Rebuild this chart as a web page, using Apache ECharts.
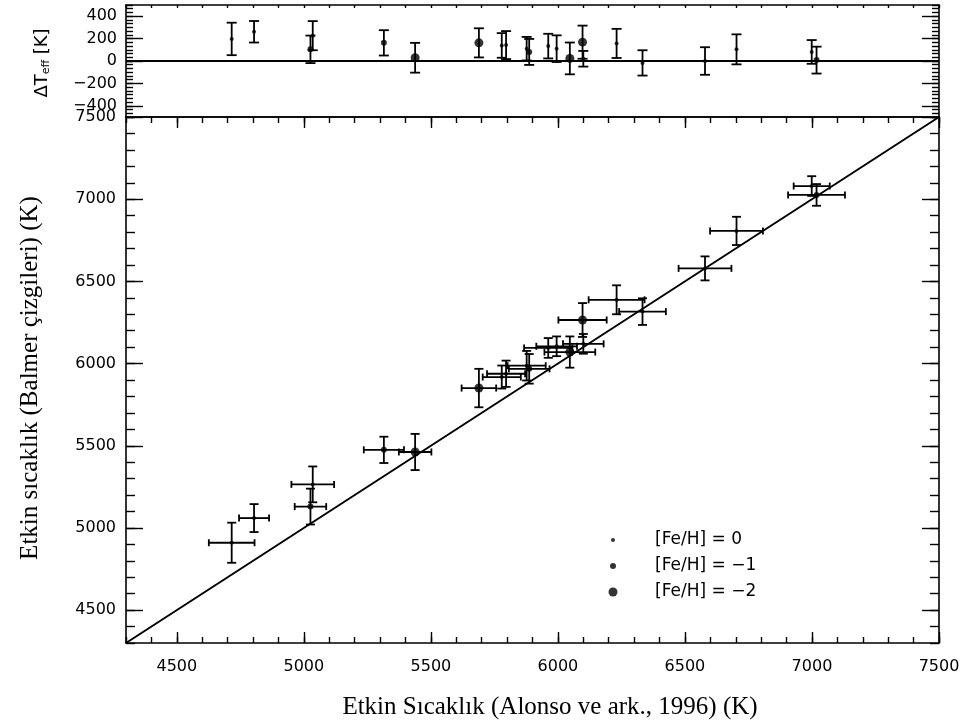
<!DOCTYPE html>
<html>
<head>
<meta charset="utf-8">
<script src="https://cdn.jsdelivr.net/npm/echarts@6/dist/echarts.min.js"></script>
<style>
  html, body { margin: 0; padding: 0; background: #fff; }
  #chart { width: 973px; height: 724px; }
</style>
</head>
<body>
<div id="chart"></div>
<script>
// Effective temperatures: Alonso et al. (1996) vs. Balmer-line values
const tAlonso   = [4716, 4804, 5035, 5026, 5315, 5438, 5689, 5779, 5796, 5887, 5877, 5962, 5995, 6047, 6097, 6100, 6231, 6333, 6579, 6703, 6999, 7018];
const tBalmer   = [4910, 5060, 5265, 5130, 5475, 5462, 5851, 5918, 5938, 5968, 5987, 6095, 6105, 6070, 6265, 6120, 6388, 6316, 6579, 6807, 7080, 7026];
const errAlonso = [  90,   59,   84,   62,   79,   64,   68,   75,   75,   80,   75,   95,   80,  100,   95,   80,  110,   92,  104,  104,   71,  112];
const errBalmer = [ 122,   85,  109,  109,   80,  110,  117,   70,   80,   90,   90,   60,   60,   95,  103,   60,   88,   81,   73,   86,   60,   66];
// Residual panel: ΔTeff and its uncertainty
const deltaT    = [ 197,  261,  226,  104,  162,   29,  162,  139,  142,   81,  110,  133,  110,   23,  168,   20,  157,  -17,    0,  104,   81,    8];
const deltaErr  = [ 145,   96,  130,  123,  113,  133,  130,  110,  125,  116,  105,  110,  119,  142,  148,   70,  130,  113,  123,  134,  106,  120];
// Metallicity class of each star
const feh       = [   0,    0,    0,   -1,   -1,   -2,   -2,    0,    0,   -1,    0,    0,    0,   -2,   -2,    0,    0,    0,    0,    0,    0,   -1];

const metalClasses = [0, -1, -2];
const metalLabels  = ['[Fe/H] = 0', '[Fe/H] = \u22121', '[Fe/H] = \u22122'];
const tRange = [4300, 7500];
const dRange = [-500, 500];
const tMajorTicks = [4500, 5000, 5500, 6000, 6500, 7000, 7500];
const dMajorTicks = [-400, -200, 0, 200, 400];

const dotSize = { '0': 4, '-1': 6, '-2': 9 };

function steps(from, to, step) {
  const out = [];
  for (let k = 0; from + k * step <= to + 1e-6; k++) out.push(Math.round((from + k * step) * 1000) / 1000);
  return out;
}
const tMinorTicks = steps(4300, 7500, 100);
const dMinorTicks = steps(-500, 500, 200 / 6);

const FONT = 'DejaVu Sans';
const black = '#000';
const plainNumber = v => (v < 0 ? '\u2212' : '') + String(Math.abs(Math.round(v)));

function axisBase(gridIndex, position, range) {
  return {
    type: 'value', gridIndex, position, min: range[0], max: range[1],
    splitLine: { show: false },
    axisLine: { show: false, onZero: false, lineStyle: { color: black, width: 1.6 } },
    axisTick: { show: false },
    axisLabel: { show: false },
    z: 5
  };
}
function tickAxis(gridIndex, position, range, ticks, len, opts) {
  const a = axisBase(gridIndex, position, range);
  a.axisTick = { show: true, inside: true, length: len, customValues: ticks, lineStyle: { color: black, width: 1.4 } };
  if (opts && opts.line) a.axisLine.show = true;
  if (opts && opts.labels) {
    a.axisLabel = {
      show: true, customValues: opts.labels, color: black, formatter: plainNumber,
      fontFamily: FONT, fontSize: opts.fontSize || 16, margin: opts.margin || 10
    };
  }
  return a;
}

const xAxes = [
  // top panel: data axis along the shared boundary
  (function () { const a = axisBase(0, 'bottom', tRange); a.axisLine.show = true; return a; })(),
  tickAxis(0, 'top', tRange, tMinorTicks, 3, { line: true }),
  // main panel
  tickAxis(1, 'bottom', tRange, tMajorTicks, 11, { line: true, labels: tMajorTicks, margin: 16 }),
  tickAxis(1, 'bottom', tRange, tMinorTicks, 6),
  tickAxis(1, 'top', tRange, tMajorTicks, 11, { line: true }),
  tickAxis(1, 'top', tRange, tMinorTicks, 6)
];
const yAxes = [
  tickAxis(0, 'left', dRange, dMajorTicks, 17, { line: true, labels: dMajorTicks, fontSize: 16, margin: 9 }),
  tickAxis(0, 'left', dRange, dMinorTicks, 7),
  tickAxis(0, 'right', dRange, dMajorTicks, 17, { line: true }),
  tickAxis(0, 'right', dRange, dMinorTicks, 7),
  tickAxis(1, 'left', tRange, tMajorTicks, 17, { line: true, labels: tMajorTicks, margin: 10 }),
  tickAxis(1, 'left', tRange, tMinorTicks, 9),
  tickAxis(1, 'right', tRange, tMajorTicks, 17, { line: true }),
  tickAxis(1, 'right', tRange, tMinorTicks, 9)
];

// Error bars with end caps drawn through the axis scales
function errorBarRenderer(hasX) {
  return function (params, api) {
    const x = api.value(0), y = api.value(1);
    const ey = api.value(hasX ? 3 : 2);
    const style = { stroke: black, lineWidth: 1.8 };
    const children = [];
    const yLo = api.coord([x, y - ey]);
    const yHi = api.coord([x, y + ey]);
    const capY = hasX ? 4.5 : 5;
    children.push({ type: 'line', shape: { x1: yLo[0], y1: yLo[1], x2: yHi[0], y2: yHi[1] }, style });
    children.push({ type: 'line', shape: { x1: yLo[0] - capY, y1: yLo[1], x2: yLo[0] + capY, y2: yLo[1] }, style });
    children.push({ type: 'line', shape: { x1: yHi[0] - capY, y1: yHi[1], x2: yHi[0] + capY, y2: yHi[1] }, style });
    if (hasX) {
      const ex = api.value(2);
      const xLo = api.coord([x - ex, y]);
      const xHi = api.coord([x + ex, y]);
      const capX = 3.5;
      children.push({ type: 'line', shape: { x1: xLo[0], y1: xLo[1], x2: xHi[0], y2: xHi[1] }, style });
      children.push({ type: 'line', shape: { x1: xLo[0], y1: xLo[1] - capX, x2: xLo[0], y2: xLo[1] + capX }, style });
      children.push({ type: 'line', shape: { x1: xHi[0], y1: xHi[1] - capX, x2: xHi[0], y2: xHi[1] + capX }, style });
    }
    return { type: 'group', children };
  };
}

const idx = tAlonso.map((_, i) => i);
const series = [];

// residual panel
series.push({
  type: 'line', xAxisIndex: 0, yAxisIndex: 0, silent: true, symbol: 'none',
  data: tRange.map(v => [v, 0]), lineStyle: { color: black, width: 1.8 }, z: 3
});
series.push({
  type: 'custom', xAxisIndex: 0, yAxisIndex: 0, silent: true,
  renderItem: errorBarRenderer(false),
  encode: { x: 0, y: 1 },
  data: idx.map(i => [tAlonso[i], deltaT[i], deltaErr[i]]), z: 4
});
metalClasses.forEach(m => {
  series.push({
    type: 'scatter', xAxisIndex: 0, yAxisIndex: 0, silent: true,
    symbol: 'circle', symbolSize: dotSize[m], itemStyle: { color: black },
    data: idx.filter(i => feh[i] === m).map(i => [tAlonso[i], deltaT[i]]), z: 6
  });
});

// main panel
series.push({
  type: 'line', xAxisIndex: 2, yAxisIndex: 4, silent: true, symbol: 'none',
  data: tRange.map(v => [v, v]), lineStyle: { color: black, width: 2 }, z: 3
});
series.push({
  type: 'custom', xAxisIndex: 2, yAxisIndex: 4, silent: true,
  renderItem: errorBarRenderer(true),
  encode: { x: 0, y: 1 },
  data: idx.map(i => [tAlonso[i], tBalmer[i], errAlonso[i], errBalmer[i]]), z: 4
});
metalClasses.forEach((m, k) => {
  series.push({
    name: metalLabels[k],
    type: 'scatter', xAxisIndex: 2, yAxisIndex: 4, silent: true,
    symbol: 'circle', symbolSize: dotSize[m], itemStyle: { color: black },
    data: idx.filter(i => feh[i] === m).map(i => [tAlonso[i], tBalmer[i]]), z: 6
  });
});

// one legend block per metallicity class so each marker keeps its own size
const legendRows = [540, 566, 592];
const legendMarkX = 613, legendTextX = 655;
const legends = metalClasses.map((m, k) => ({
  data: [{ name: metalLabels[k], icon: 'circle' }],
  orient: 'vertical', left: legendMarkX - dotSize[m] / 2, top: legendRows[k] - 9, padding: 0,
  itemWidth: dotSize[m], itemHeight: dotSize[m],
  selectedMode: false,
  itemStyle: { color: black },
  textStyle: {
    fontFamily: FONT, fontSize: 17, color: black, lineHeight: 18,
    padding: [0, 0, 0, legendTextX - (legendMarkX + dotSize[m] / 2 + 5)]
  }
}));

const chart = echarts.init(document.getElementById('chart'), null, { renderer: 'canvas' });
chart.setOption({
  animation: false,
  backgroundColor: '#fff',
  grid: [
    { left: 126, top: 5, width: 813, height: 112 },
    { left: 126, top: 117, width: 813, height: 526 }
  ],
  xAxis: xAxes,
  yAxis: yAxes,
  legend: legends,
  series,
  graphic: [
    {
      type: 'text', x: 550, y: 707,
      style: {
        text: 'Etkin Sıcaklık (Alonso ve ark., 1996) (K)',
        font: '25px "Liberation Serif"', fill: black,
        textAlign: 'center', textVerticalAlign: 'middle', align: 'center', verticalAlign: 'middle'
      }
    },
    {
      type: 'text', x: 30, y: 378, rotation: Math.PI / 2,
      style: {
        text: 'Etkin sıcaklık (Balmer çizgileri) (K)',
        font: '25px "Liberation Serif"', fill: black,
        textAlign: 'center', textVerticalAlign: 'middle', align: 'center', verticalAlign: 'middle'
      }
    },
    {
      type: 'text', x: 42, y: 63, rotation: Math.PI / 2,
      style: {
        text: 'ΔT{sub|eff} [K]',
        font: '18px "DejaVu Sans"', fill: black,
        textAlign: 'center', textVerticalAlign: 'middle', align: 'center', verticalAlign: 'middle',
        rich: { sub: { fontSize: 11, fontFamily: 'DejaVu Sans', fill: black, padding: [8, 0, 0, 0] } }
      }
    }
  ]
});
</script>
</body>
</html>
